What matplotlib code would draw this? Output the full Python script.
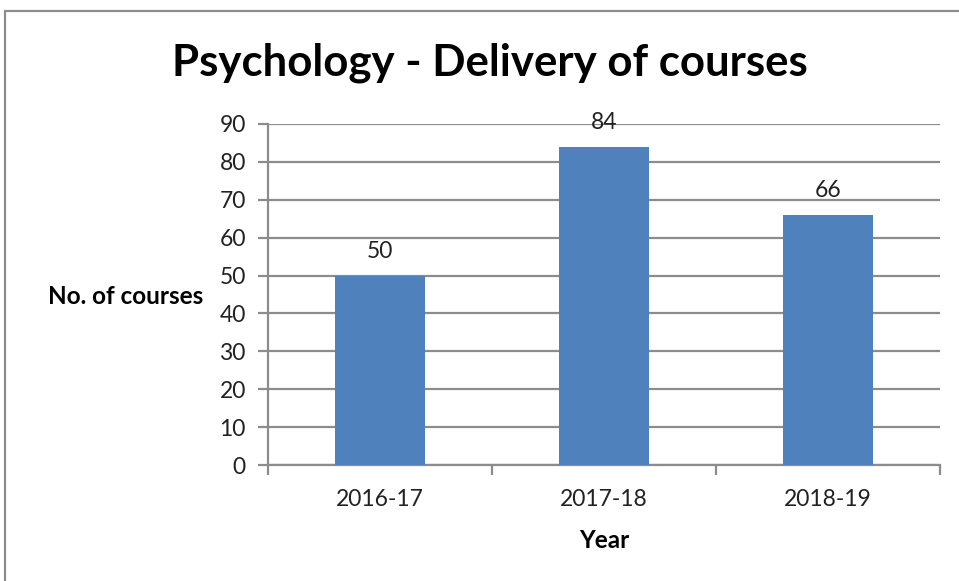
import matplotlib
matplotlib.use("Agg")
import matplotlib.pyplot as plt
from matplotlib.patches import Rectangle

categories = ["2016-17", "2017-18", "2018-19"]
values = [50, 84, 66]
yticks = [0, 10, 20, 30, 40, 50, 60, 70, 80, 90]

plt.rcParams['font.family'] = ['Lato', 'DejaVu Sans']

W, H = 959, 581
fig = plt.figure(figsize=(W / 100, H / 100), dpi=100)
fig.patch.set_facecolor("white")

# outer border
fig.patches.append(Rectangle((5 / W, -0.1), 1.2, 1 - 11 / H + 0.1, transform=fig.transFigure,
                             fill=False, edgecolor="#8c8c8c", linewidth=1.6))

ax = fig.add_axes([268 / W, 1 - 465 / H, (940 - 268) / W, (465 - 124) / H])
x = list(range(len(categories)))
bars = ax.bar(x, values, width=0.4, color="#4F81BD", zorder=3)
ax.set_xlim(-0.5, len(categories) - 0.5)
ax.set_ylim(0, 90)
ax.set_yticks(yticks)
ax.set_yticklabels([str(t) for t in yticks], fontsize=16.5, color="#222222")
ax.yaxis.grid(True, color="#8c8c8c", linewidth=1.6, zorder=0)
ax.set_axisbelow(True)

for s in ["top", "right"]:
    ax.spines[s].set_visible(False)
for s in ["left", "bottom"]:
    ax.spines[s].set_color("#8c8c8c")
    ax.spines[s].set_linewidth(1.6)

# category labels centered, ticks at boundaries
ax.set_xticks([i - 0.5 for i in range(len(categories) + 1)])
ax.set_xticklabels([])
ax.set_xticks(x, minor=True)
ax.set_xticklabels(categories, minor=True, fontsize=16.5, color="#222222")
ax.tick_params(axis="x", which="minor", length=0, pad=17)
ax.tick_params(axis="x", which="major", length=7, width=1.6, color="#8c8c8c", direction="out")
ax.tick_params(axis="y", length=7, width=1.6, color="#8c8c8c", direction="out", pad=9)

for xi, v in zip(x, values):
    ax.annotate(str(v), (xi, v), xytext=(0, 10), textcoords="offset points",
                ha="center", va="bottom", fontsize=16.5, color="#222222")

fig.text(490 / W, 1 - 63 / H, "Psychology - Delivery of courses", ha="center", va="center",
         fontsize=31.5, fontweight="bold", color="black")
fig.text(203 / W, 1 - 296 / H, "No. of courses", ha="right", va="center",
         fontsize=17.5, fontweight="bold", color="black")
fig.text(604 / W, 1 - 540 / H, "Year", ha="center", va="center",
         fontsize=17.5, fontweight="bold", color="black")

fig.savefig("out.png", dpi=100)
